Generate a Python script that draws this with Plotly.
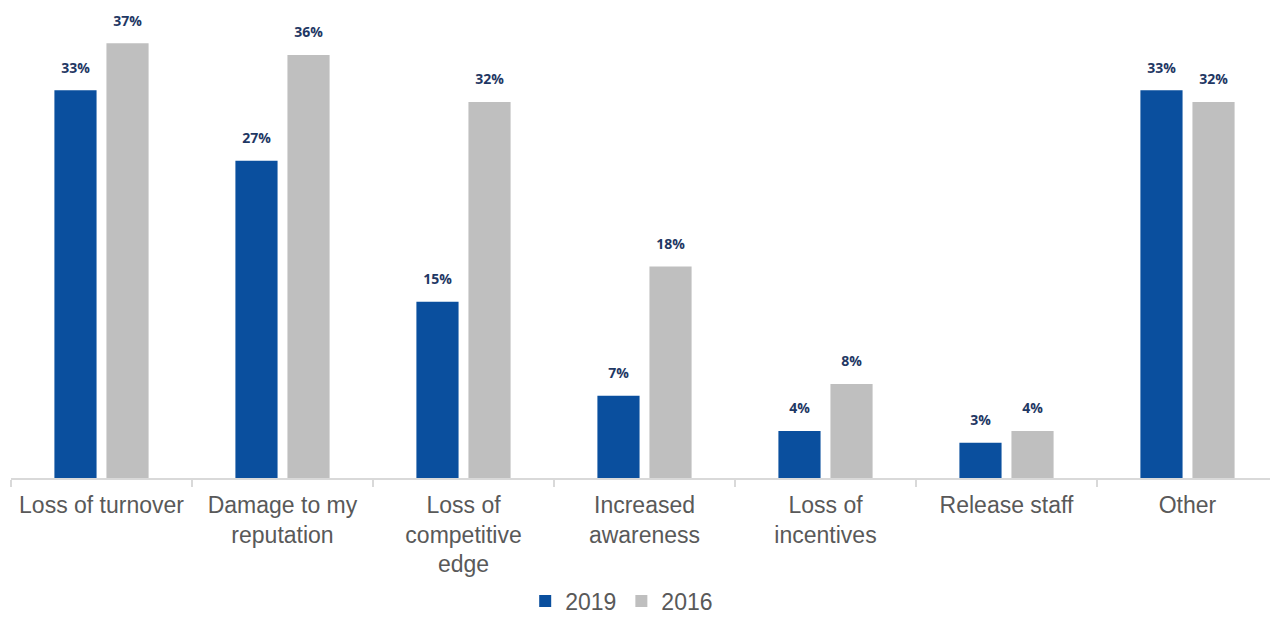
import plotly.graph_objects as go

# categories and values
categories = ["Loss of turnover", "Damage to my<br>reputation", "Loss of<br>competitive<br>edge",
              "Increased<br>awareness", "Loss of<br>incentives", "Release staff", "Other"]
vals_2019 = [33, 27, 15, 7, 4, 3, 33]
vals_2016 = [37, 36, 32, 18, 8, 4, 32]

blue = "#0A4F9E"
grey = "#BFBFBF"
label_font = dict(family="Open Sans", size=14, color="#1F3864")

fig = go.Figure()
for name, vals, col in [("2019", vals_2019, blue), ("2016", vals_2016, grey)]:
    fig.add_trace(go.Bar(
        x=categories, y=vals, name=name, marker_color=col, marker_line_width=0,
        offsetgroup=name,
    ))
    # value labels, sitting a bit above each bar
    fig.add_trace(go.Scatter(
        x=categories, y=vals, mode="markers+text", offsetgroup=name,
        marker=dict(size=21, opacity=0), showlegend=False, hoverinfo="skip",
        text=[f"<b>{v}%</b>" for v in vals], textposition="top center",
        textfont=label_font, cliponaxis=False,
    ))

# page body has an 8px margin, so the figure is trimmed to fit the window
fig.update_layout(
    width=1270, height=613,
    margin=dict(l=3, r=0, t=0, b=143, autoexpand=False),
    plot_bgcolor="white", paper_bgcolor="white",
    barmode="group", bargap=0.425, bargroupgap=0.19,
    scattermode="group", scattergap=0.425,
    font=dict(family="Liberation Sans, Arial", color="#595959", size=23),
    legend=dict(orientation="h", x=0.482, xanchor="center", y=-0.262, yanchor="middle",
                font=dict(size=23, color="#595959"), itemwidth=30, traceorder="normal"),
    showlegend=True,
)
fig.update_xaxes(showline=True, linecolor="#D9D9D9", linewidth=2, ticks="outside",
                 tickson="boundaries", tickcolor="#D9D9D9", ticklen=7, tickwidth=2,
                 ticklabelstandoff=5, automargin=False,
                 tickfont=dict(size=23, color="#595959"))
fig.update_yaxes(range=[0, 40.0], visible=False, showgrid=False, automargin=False)

fig.write_html("out.html")
